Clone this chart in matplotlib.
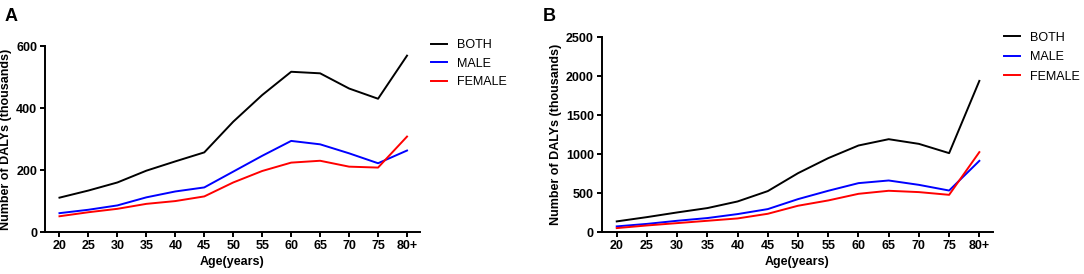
import matplotlib
matplotlib.use('Agg')
import matplotlib.pyplot as plt

plt.rcParams['font.family'] = ['Liberation Sans', 'DejaVu Sans']

ages = ['20', '25', '30', '35', '40', '45', '50', '55', '60', '65', '70', '75', '80+']

# Panel A
a_both = [111, 134, 160, 198, 228, 257, 356, 442, 517, 512, 463, 430, 569]
a_male = [61, 72, 86, 112, 131, 144, 195, 246, 294, 283, 254, 222, 263]
a_female = [51, 64, 75, 91, 100, 115, 160, 197, 224, 230, 211, 208, 308]

# Panel B
b_both = [137, 192, 252, 308, 393, 526, 756, 949, 1111, 1192, 1132, 1013, 1940]
b_male = [73, 105, 145, 180, 231, 295, 423, 530, 628, 662, 606, 533, 914]
b_female = [51, 85, 115, 145, 175, 235, 338, 406, 491, 530, 513, 478, 1026]

fig = plt.figure(figsize=(10.84, 2.74), dpi=100)
axA = fig.add_axes([0.0415, 0.153, 0.346, 0.679])
axB = fig.add_axes([0.555, 0.153, 0.361, 0.711])


def style(ax, both, male, female, yticks, leg_y, leg_sp):
  x = range(len(ages))
  ax.plot(x, both, color='black', lw=1.4, label='BOTH')
  ax.plot(x, male, color='#0000ff', lw=1.4, label='MALE')
  ax.plot(x, female, color='#ff0000', lw=1.4, label='FEMALE')
  ax.set_xlim(-0.5, 12.45)
  ax.set_ylim(0, yticks[-1])
  ax.set_xticks(list(x))
  ax.set_xticklabels(ages)
  ax.set_yticks(yticks)
  for s in ['top', 'right']:
    ax.spines[s].set_visible(False)
  for s in ['left', 'bottom']:
    ax.spines[s].set_linewidth(1.4)
  ax.tick_params(width=1.4, length=3.5, labelsize=9, pad=2)
  for lab in ax.get_xticklabels() + ax.get_yticklabels():
    lab.set_fontweight('bold')
  ax.set_xlabel('Age(years)', fontsize=9, fontweight='bold', labelpad=3)
  ax.set_ylabel('Number of DALYs (thousands)', fontsize=9, fontweight='bold', labelpad=3)
  ax.legend(loc='upper left', bbox_to_anchor=(1.0, leg_y), frameon=False,
            fontsize=9, handlelength=1.28, handletextpad=0.8, labelspacing=leg_sp)


style(axA, a_both, a_male, a_female, [0, 200, 400, 600], 1.096, 0.5)
style(axB, b_both, b_male, b_female, [0, 500, 1000, 1500, 2000, 2500], 1.087, 0.6)

fig.text(0.004, 0.925, 'A', fontsize=13, fontweight='bold')
fig.text(0.501, 0.925, 'B', fontsize=13, fontweight='bold')

plt.savefig('out.png', dpi=100)
